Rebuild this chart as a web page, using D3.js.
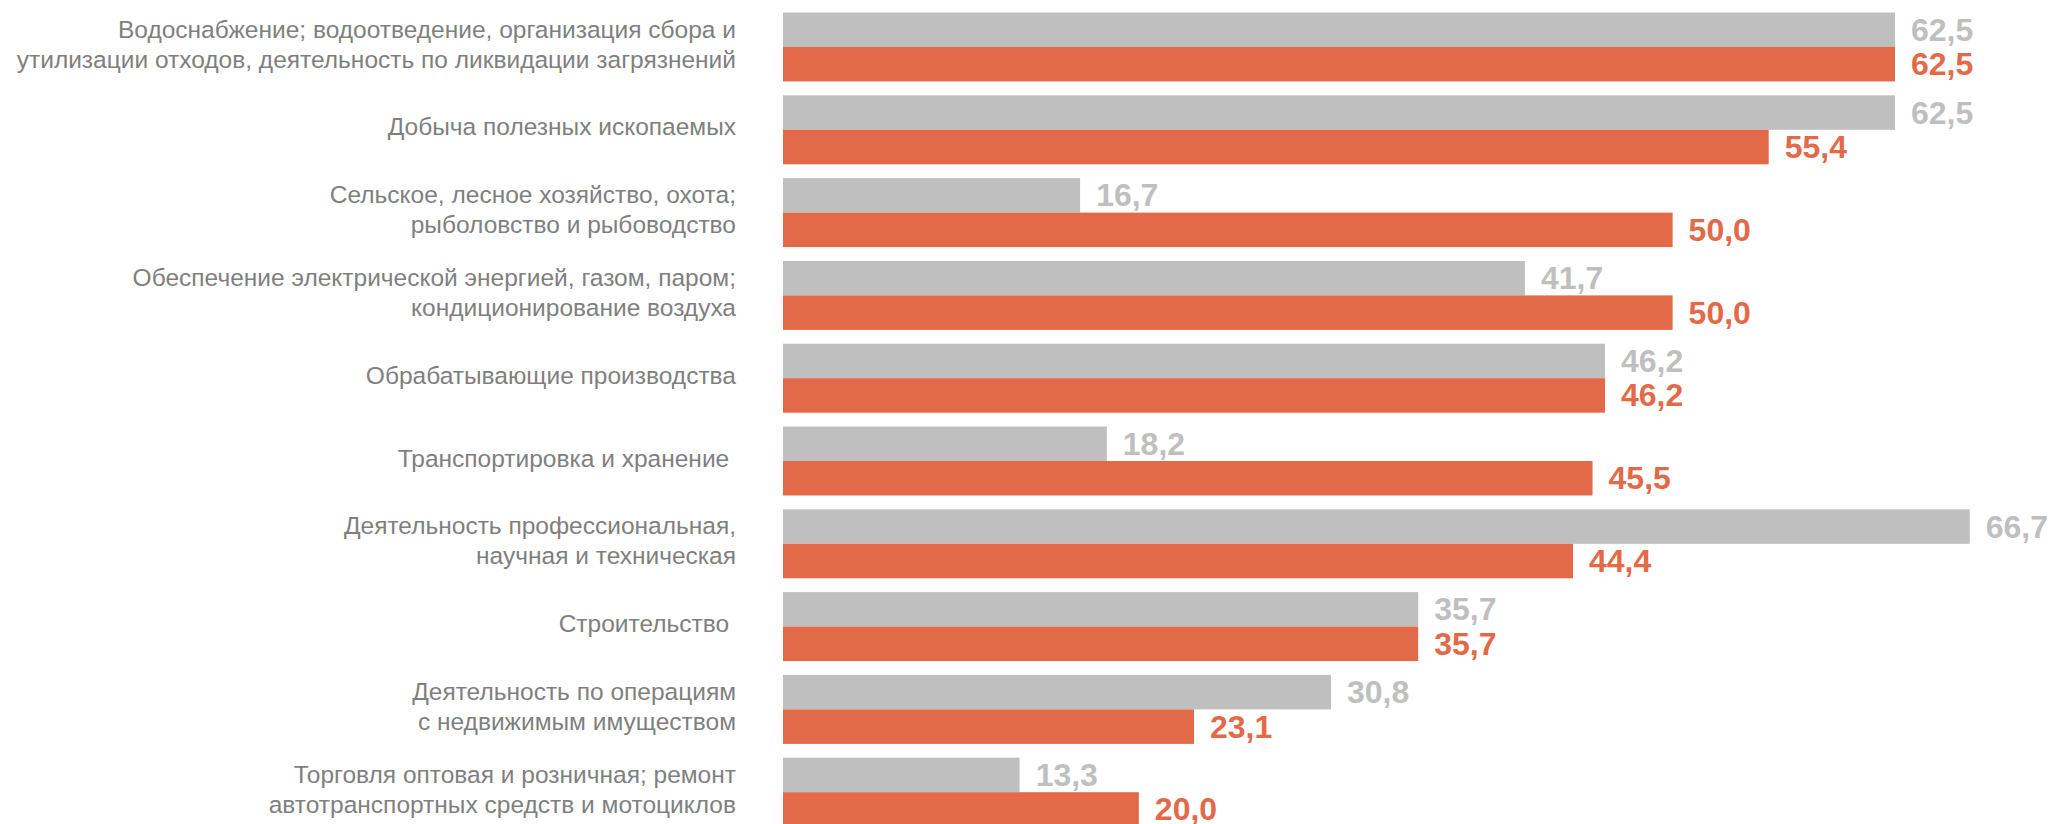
<!DOCTYPE html>
<html>
<head>
<meta charset="utf-8">
<script src="https://cdn.jsdelivr.net/npm/d3@7"></script>
<style>
  body { margin: 0; background: #fff; }
  svg { display: block; }
</style>
</head>
<body>
<svg id="chart"></svg>
<script>
const categories = [
  ['Водоснабжение; водоотведение, организация сбора и', 'утилизации отходов, деятельность по ликвидации загрязнений'],
  ['Добыча полезных ископаемых'],
  ['Сельское, лесное хозяйство, охота;', 'рыболовство и рыбоводство'],
  ['Обеспечение электрической энергией, газом, паром;', 'кондиционирование воздуха'],
  ['Обрабатывающие производства'],
  ['Транспортировка и хранение '],
  ['Деятельность профессиональная,', 'научная и техническая'],
  ['Строительство '],
  ['Деятельность по операциям', 'с недвижимым имуществом'],
  ['Торговля оптовая и розничная; ремонт', 'автотранспортных средств и мотоциклов']
];
const grayValues = [62.5, 62.5, 16.7, 41.7, 46.2, 18.2, 66.7, 35.7, 30.8, 13.3];
const orangeValues = [62.5, 55.4, 50.0, 50.0, 46.2, 45.5, 44.4, 35.7, 23.1, 20.0];

const width = 2052;
const height = 824;
const barLeft = 783;
const labelRight = 736;
const lineHeight = 30;

const grayColor = '#bfbfbf';
const orangeColor = '#e36a48';
const textColor = '#7f7f7f';

const svg = d3.select('#chart')
  .attr('width', width)
  .attr('height', height);

// x
const xScale = d3.scaleLinear()
  .domain([0, 62.5])
  .range([barLeft, 1895]);

// y
const yScale = d3.scaleBand()
  .domain(d3.range(categories.length))
  .range([5.6, 833.6])
  .paddingInner(0.167)
  .paddingOuter(0.0835);

const ySub = d3.scaleBand()
  .domain(['gray', 'orange'])
  .range([0, yScale.bandwidth()]);

const fmt = v => d3.format('.1f')(v).replace('.', ',');

const series = [
  { key: 'gray', values: grayValues, color: grayColor },
  { key: 'orange', values: orangeValues, color: orangeColor }
];

series.forEach(s => {
  const g = svg.append('g').attr('class', 'series-' + s.key);

  g.selectAll('rect')
    .data(s.values)
    .enter()
    .append('rect')
    .attr('x', xScale(0))
    .attr('y', (d, i) => yScale(i) + ySub(s.key))
    .attr('width', d => xScale(d) - xScale(0))
    .attr('height', ySub.bandwidth())
    .style('fill', s.color);

  g.selectAll('text')
    .data(s.values)
    .enter()
    .append('text')
    .attr('x', d => xScale(d) + 16)
    .attr('y', (d, i) => yScale(i) + ySub(s.key) + ySub.bandwidth() / 2 + 11)
    .style('font-family', '"Liberation Sans", Arial, sans-serif')
    .style('font-size', '32px')
    .style('font-weight', 'bold')
    .style('fill', s.color)
    .text(d => fmt(d));
});

// category labels
const labels = svg.append('g')
  .selectAll('text')
  .data(categories)
  .enter()
  .append('text')
  .attr('x', labelRight)
  .attr('y', (d, i) => yScale(i) + yScale.bandwidth() / 2)
  .attr('text-anchor', 'end')
  .attr('xml:space', 'preserve')
  .style('white-space', 'pre')
  .style('font-family', '"Liberation Sans", Arial, sans-serif')
  .style('font-size', '24.5px')
  .style('fill', textColor);

labels.each(function (lines, i) {
  const t = d3.select(this);
  const cy = yScale(i) + yScale.bandwidth() / 2 - 3;
  lines.forEach((line, j) => {
    t.append('tspan')
      .attr('x', labelRight)
      .attr('y', cy + (j - (lines.length - 1) / 2) * lineHeight)
      .attr('dy', '0.35em')
      .text(line);
  });
});
</script>
</body>
</html>
